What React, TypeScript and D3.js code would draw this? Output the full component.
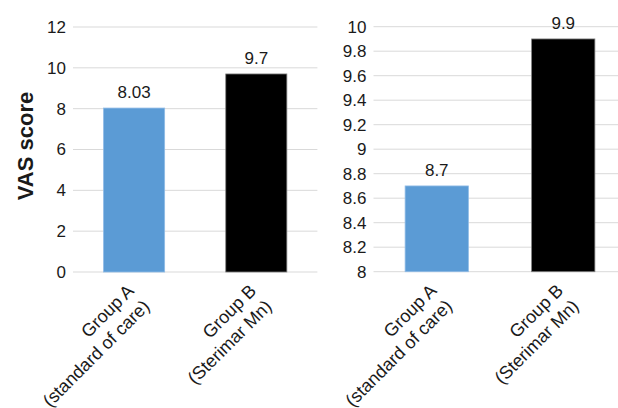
import React from "react";
import * as d3 from "d3";

const categories = ["A", "B"];
const labelLine1 = ["Group A", "Group B"];
const labelLine2 = ["(standard of care)", "(Sterimar Mn)"];
const leftValues = [8.03, 9.7];
const leftLabels = ["8.03", "9.7"];
const leftTicks = [0, 2, 4, 6, 8, 10, 12];
const rightValues = [8.7, 9.9];
const rightLabels = ["8.7", "9.9"];
const rightTicks = [8, 8.2, 8.4, 8.6, 8.8, 9, 9.2, 9.4, 9.6, 9.8, 10];
const rightTickLabels = ["8", "8.2", "8.4", "8.6", "8.8", "9", "9.2", "9.4", "9.6", "9.8", "10"];
const leftTickLabels = ["0", "2", "4", "6", "8", "10", "12"];
const colors = ["#5B9BD5", "#000000"];
const strokes = ["#8fbbe6", "#7f7f7f"];

const FONT = "'Liberation Sans', Arial, Helvetica, sans-serif";
const TXT = "#1a1a1a";

type PanelProps = {
  x0: number;
  x1: number;
  yTop: number;
  yBot: number;
  domain: [number, number];
  ticks: number[];
  tickLabels: string[];
  values: number[];
  valueLabels: string[];
};

function Panel(p: PanelProps) {
  const x = d3.scaleBand<string>().domain(categories).range([p.x0, p.x1]).paddingInner(0.5).paddingOuter(0.25);
  const y = d3.scaleLinear().domain(p.domain).range([p.yBot, p.yTop]);
  return (
    <g>
      {p.ticks.map((t, i) => (
        <g key={i}>
          <line x1={p.x0} x2={p.x1} y1={y(t)} y2={y(t)} stroke="#d9d9d9" strokeWidth={1} />
          <text x={p.x0 - 7} y={y(t)} dy="0.35em" textAnchor="end" fontSize={17} fontFamily={FONT} fill={TXT}>
            {p.tickLabels[i]}
          </text>
        </g>
      ))}
      {categories.map((c, i) => {
        const bx = x(c)!;
        const cx = bx + x.bandwidth() / 2;
        const top = y(p.values[i]);
        return (
          <g key={c}>
            <rect x={bx} y={top} width={x.bandwidth()} height={y(p.domain[0]) - top} fill={colors[i]} stroke={strokes[i]} strokeWidth={0.8} />
            <text x={cx} y={top - 10} textAnchor="middle" fontSize={17} fontFamily={FONT} fill={TXT}>
              {p.valueLabels[i]}
            </text>
            <text transform={`translate(${cx + 1},${p.yBot + 20}) rotate(-45)`} textAnchor="end" fontSize={18} fontFamily={FONT} fill={TXT}>
              <tspan x={0} dy={0}>{labelLine1[i]}</tspan>
              <tspan x={0} dy={22}>{labelLine2[i]}</tspan>
            </text>
          </g>
        );
      })}
    </g>
  );
}

export default function App() {
  return (
    <svg width={618} height={408} style={{ position: "absolute", left: 0, top: 0, background: "#fff" }}>
      <rect x={0} y={0} width={618} height={408} fill="#fff" />
      <Panel x0={73} x1={317.4} yTop={27} yBot={272} domain={[0, 12]} ticks={leftTicks} tickLabels={leftTickLabels} values={leftValues} valueLabels={leftLabels} />
      <Panel x0={373.5} x1={626.5} yTop={26.7} yBot={271.7} domain={[8, 10]} ticks={rightTicks} tickLabels={rightTickLabels} values={rightValues} valueLabels={rightLabels} />
      <text transform="translate(33,146) rotate(-90)" textAnchor="middle" fontSize={22} fontWeight="bold" fontFamily={FONT} fill={TXT}>
        VAS score
      </text>
    </svg>
  );
}
